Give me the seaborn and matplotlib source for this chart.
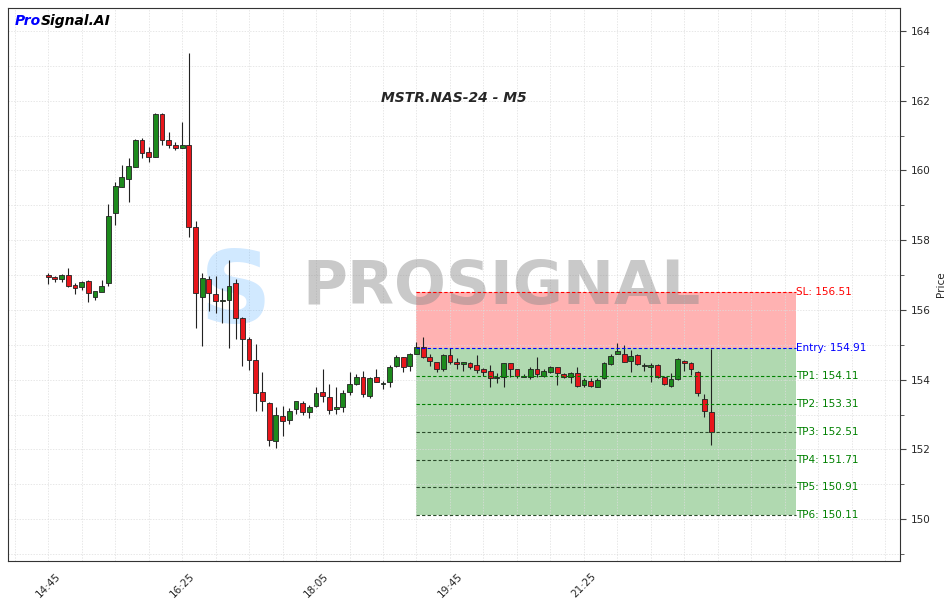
import numpy as np
import pandas as pd
import matplotlib
matplotlib.use("Agg")
import matplotlib.pyplot as plt
import seaborn as sns

opens = [156.99,156.94,156.88,157.00,156.71,156.65,156.82,156.38,156.52,156.76,
         158.77,159.52,159.77,160.11,160.87,160.52,160.40,161.62,160.87,160.72,
         160.64,160.72,158.39,156.38,156.90,156.46,156.27,156.28,156.76,155.76,
         155.18,154.56,153.66,153.34,152.24,152.96,152.84,153.15,153.34,153.07,
         153.24,153.66,153.51,153.16,153.21,153.64,153.88,154.09,153.54,154.07,
         153.89,153.94,154.39,154.64,154.39,154.73,154.93,154.64,154.50,154.30,
         154.71,154.52,154.44,154.47,154.42,154.30,154.24,154.04,154.08,154.47,
         154.32,154.07,154.07,154.32,154.11,154.21,154.35,154.15,154.07,154.18,
         153.85,153.96,153.80,154.04,154.44,154.73,154.73,154.54,154.71,154.39,
         154.35,154.42,154.08,153.83,154.01,154.54,154.47,154.23,153.46,153.06]
closes = [156.94,156.88,157.00,156.70,156.62,156.79,156.48,156.53,156.69,158.69,
          159.55,159.82,160.13,160.87,160.49,160.40,161.62,160.87,160.72,160.64,
          160.72,158.39,156.50,156.93,156.48,156.25,156.27,156.70,155.76,155.18,
          154.56,153.61,153.39,152.27,153.00,152.81,153.11,153.39,153.06,153.22,
          153.63,153.54,153.13,153.22,153.61,153.87,154.07,153.58,154.06,153.94,
          153.89,154.37,154.64,154.37,154.75,154.93,154.66,154.54,154.30,154.71,
          154.51,154.44,154.50,154.37,154.28,154.21,154.04,154.09,154.47,154.32,
          154.11,154.12,154.30,154.15,154.25,154.35,154.18,154.07,154.18,153.83,
          153.99,153.83,153.99,154.48,154.68,154.81,154.51,154.68,154.44,154.39,
          154.42,154.08,153.87,154.01,154.58,154.47,154.32,153.61,153.10,152.49]
highs = [157.07,156.98,157.03,157.19,156.77,156.84,156.86,156.47,156.86,159.04,
         159.68,160.16,160.36,160.91,160.92,160.66,161.66,161.66,161.11,160.83,
         161.39,163.36,158.56,157.06,156.98,156.98,156.62,157.43,156.90,155.81,
         155.23,155.02,154.23,153.37,153.22,153.24,153.20,153.24,153.40,153.26,
         153.80,154.30,153.88,153.80,153.69,154.22,154.16,154.26,154.09,154.30,
         153.97,154.42,154.70,154.66,154.77,155.09,155.21,154.73,154.33,154.74,
         154.90,154.61,154.50,154.50,154.70,154.34,154.41,154.20,154.49,154.49,
         154.14,154.15,154.37,154.64,154.30,154.39,154.37,154.18,154.21,154.35,
         154.04,154.04,154.04,154.52,154.73,155.04,155.00,154.85,154.74,154.49,
         154.47,154.44,154.10,154.18,154.61,154.56,154.52,154.26,153.59,154.87]
lows = [156.74,156.80,156.80,156.65,156.46,156.57,156.24,156.29,156.66,156.70,
        158.43,159.52,159.11,160.11,160.35,160.23,160.40,160.74,160.64,160.60,
        160.64,158.10,155.47,154.96,155.97,155.90,155.64,154.90,155.18,154.39,
        154.28,153.11,153.11,152.10,152.03,152.38,152.72,153.01,152.98,152.91,
        153.22,153.37,153.02,153.03,153.08,153.56,153.84,153.50,153.48,153.92,
        153.72,153.78,154.35,154.22,154.24,154.73,154.61,154.39,154.23,154.26,
        154.44,154.30,154.26,154.30,154.18,154.11,153.80,153.91,153.80,154.08,
        154.06,154.07,154.01,154.07,154.09,154.18,153.85,154.06,153.91,153.80,
        153.78,153.78,153.78,154.01,154.42,154.73,154.50,154.23,154.42,154.26,
        153.94,154.06,153.85,153.80,153.99,154.25,154.13,153.54,152.92,152.12]

tick_labels = ["14:45", "16:25", "18:05", "19:45", "21:25", "", ""]
title = "MSTR.NAS-24 - M5"
levels = [("SL", 156.51), ("Entry", 154.91), ("TP1", 154.11), ("TP2", 153.31),
          ("TP3", 152.51), ("TP4", 151.71), ("TP5", 150.91), ("TP6", 150.11)]

df = pd.DataFrame({"open": opens, "close": closes, "high": highs, "low": lows})
df["x"] = np.arange(len(df))
df["up"] = df["close"] >= df["open"]

sns.set_style("white")
plt.rcParams['font.family'] = ['DejaVu Sans']
fig = plt.figure(figsize=(9.47, 6.03), dpi=100)
ax = fig.add_axes([8/947, 42/603, 892/947, 553/603])

x0, x1 = 55, 111.6
ax.fill_between([x0, x1], 154.91, 156.51, color="#ff9999", alpha=0.75, lw=0, zorder=0.5)
ax.fill_between([x0, x1], 150.11, 154.91, color="#8fc98f", alpha=0.7, lw=0, zorder=0.5)

# watermark
ax.text(0.553, 0.495, "PROSIGNAL", transform=ax.transAxes, ha="center", va="center",
        fontsize=44, fontweight="bold", color="#888888", alpha=0.45, zorder=0.6)
ax.text(0.255, 0.48, "S", transform=ax.transAxes, ha="center", va="center",
        fontsize=72, fontweight="bold", color="#4aa8ff", alpha=0.25, zorder=0.6)

ax.vlines(df["x"], df["low"], df["high"], color="#222222", lw=0.8, zorder=2)
colors = np.where(df["up"], "#1d8a1d", "#e8161b")
bottoms = np.minimum(df["open"], df["close"])
heights = np.maximum(np.abs(df["close"] - df["open"]), 0.02)
ax.bar(df["x"], heights, bottom=bottoms, width=0.72, color=colors,
       edgecolor="#222222", linewidth=0.6, zorder=3)

for name, val in levels:
    if name == "SL":
        c, tc = "red", "red"
    elif name == "Entry":
        c, tc = "blue", "blue"
    elif name in ("TP1", "TP2"):
        c, tc = "green", "green"
    else:
        c, tc = "#2a4a2a", "green"
    ax.hlines(val, x0, x1, colors=c, linestyles=(0, (3, 2)), lw=0.8, zorder=4)
    ax.text(x1 + 0.1, val, f"{name}: {val:.2f}", color=tc, fontsize=7.5,
            va="center", ha="left", zorder=5)

ax.set_xlim(-6, 127.2)
ax.set_ylim(148.8, 164.66)
ax.set_xticks(np.arange(0, 121, 20))
ax.set_xticklabels(tick_labels, rotation=45, fontsize=7.5)
ax.set_xticks(np.arange(-5, 127, 5), minor=True)
ax.yaxis.tick_right()
ax.yaxis.set_label_position("right")
ax.set_yticks(np.arange(150, 165, 2))
ax.set_yticks(np.arange(149, 165, 1), minor=True)
ax.tick_params(axis="y", labelsize=7.5)
ax.tick_params(which="both", direction="out", length=3, color="#444444")
ax.tick_params(which="major", length=4)
ax.set_ylabel("Price", fontsize=7.5)
ax.grid(True, which="both", color="#dddddd", lw=0.5, ls=(0, (2, 2)), zorder=0)
for s in ax.spines.values():
    s.set_color("#333333")
    s.set_linewidth(0.8)

ax.text(0.5, 0.837, title, transform=ax.transAxes, ha="center", va="center",
        fontsize=10, fontweight="bold", fontstyle="italic")
ax.text(0.007, 0.977, "Pro", transform=ax.transAxes, ha="left", va="center",
        fontsize=10, fontweight="bold", fontstyle="italic", color="blue")
ax.text(0.037, 0.977, "Signal.AI", transform=ax.transAxes, ha="left", va="center",
        fontsize=10, fontweight="bold", fontstyle="italic", color="black")

fig.savefig("out.png", dpi=100)
